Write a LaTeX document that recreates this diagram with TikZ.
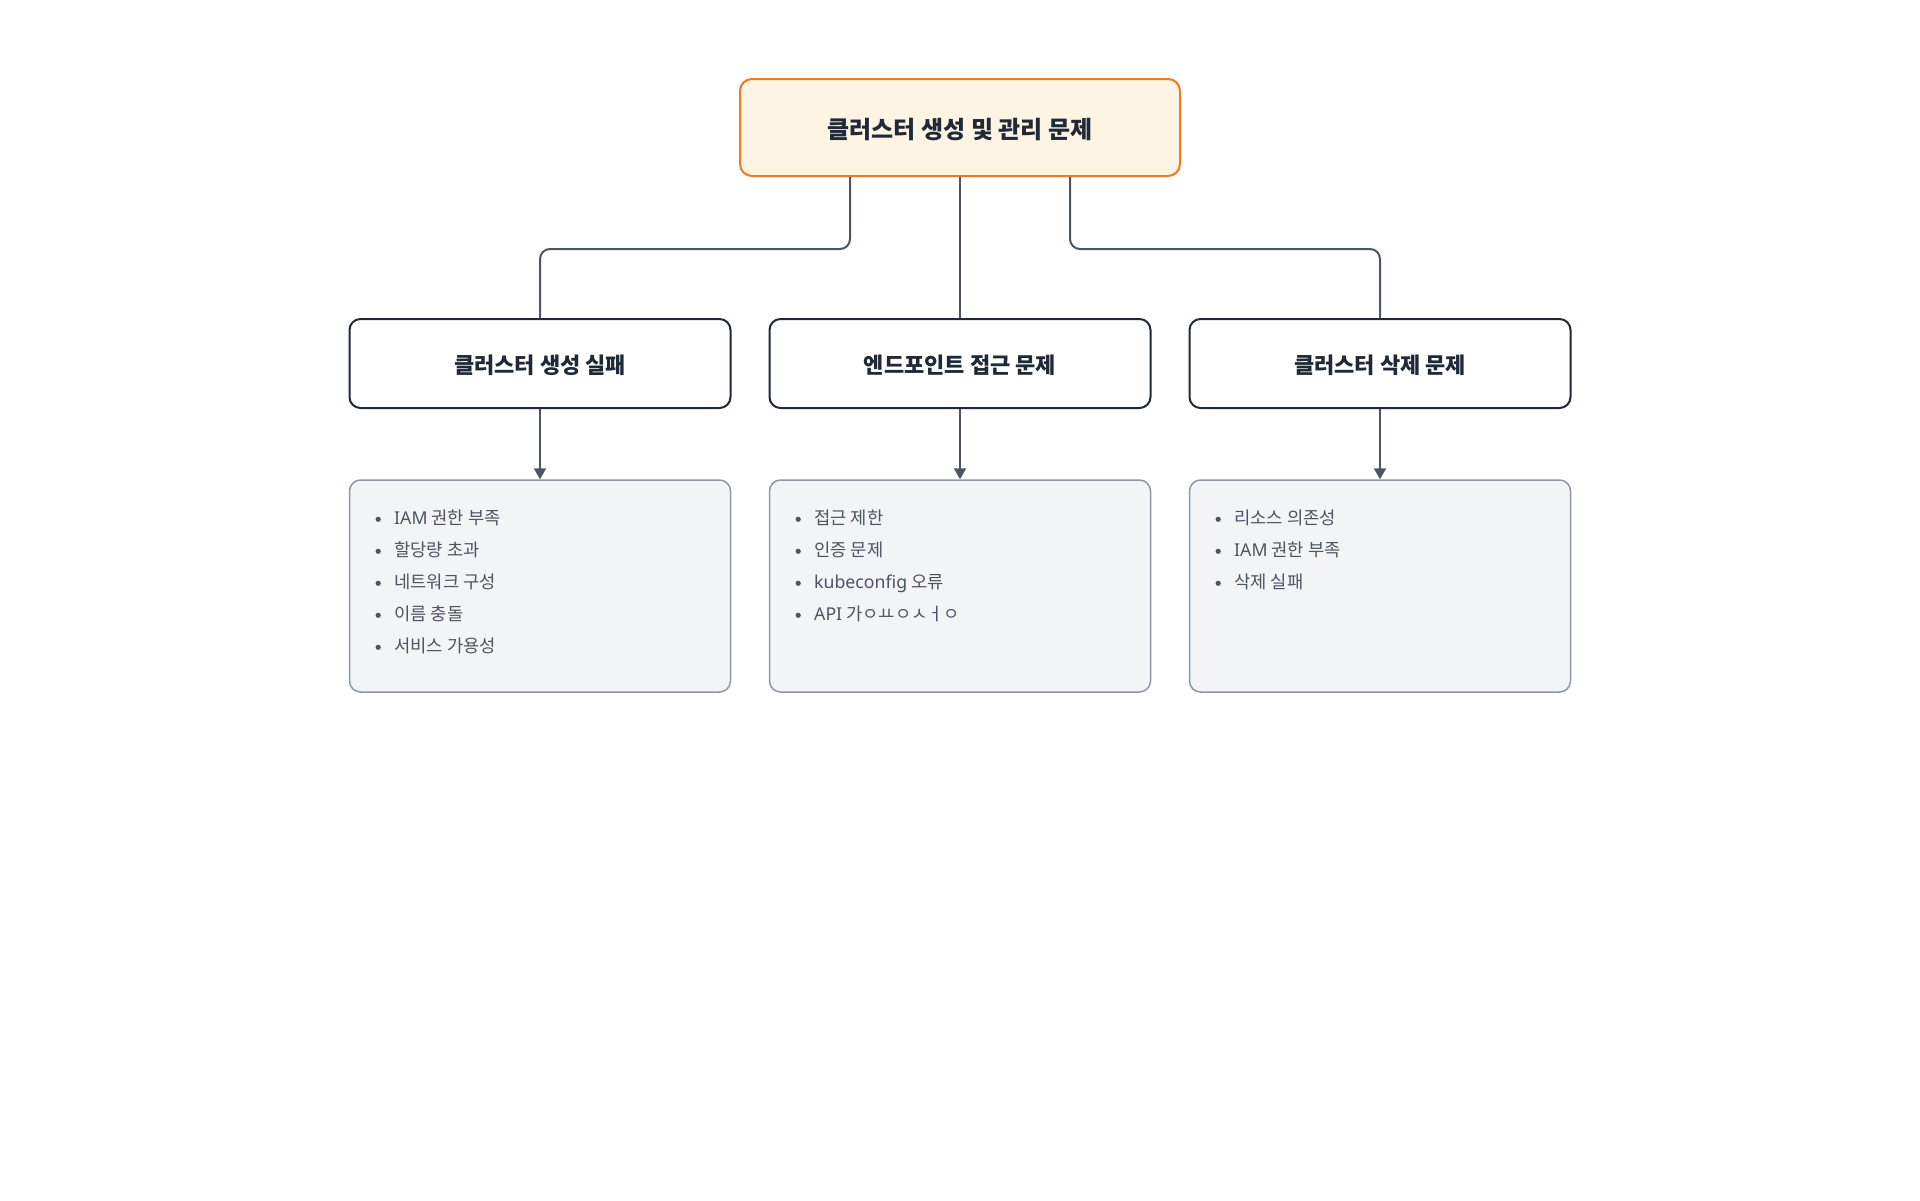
\documentclass[tikz,border=0pt]{standalone}
\usepackage{fontspec}
\usetikzlibrary{arrows.meta}
\setmainfont{Noto Sans CJK KR}
\newfontfamily\kr{Noto Sans CJK KR}
\newfontfamily\lat{Noto Sans}
\definecolor{topfill}{HTML}{FEF4E4}
\definecolor{topdraw}{HTML}{EF7A1C}
\definecolor{middraw}{HTML}{1F2937}
\definecolor{lowfill}{HTML}{F3F4F6}
\definecolor{lowdraw}{HTML}{8D97A8}
\definecolor{conncol}{HTML}{4B5563}
\definecolor{titlecol}{HTML}{1F2937}
\definecolor{listcol}{HTML}{4B5563}
\newcommand\bul{\makebox[0pt][c]{\raisebox{0.12em}{\tikz\fill[listcol] (0,0) circle (2.6pt);}}\hspace{16pt}}
\begin{document}
\begin{tikzpicture}[x=1pt,y=-1pt,
  topbox/.style={draw=topdraw, line width=2pt, fill=topfill, rounded corners=12pt,
    minimum width=440pt, minimum height=97pt, inner sep=0pt},
  toptext/.style={inner sep=0pt, font=\kr\bfseries\fontsize{24}{28}\selectfont, text=titlecol},
  midbox/.style={draw=middraw, line width=2pt, fill=white, rounded corners=11pt,
    minimum width=381pt, minimum height=89pt, inner sep=0pt},
  midtext/.style={inner sep=0pt, font=\kr\bfseries\fontsize{22}{26}\selectfont, text=titlecol},
  lowbox/.style={draw=lowdraw, line width=1.5pt, fill=lowfill, rounded corners=11pt,
    minimum width=381pt, minimum height=212pt, inner sep=0pt},
  item/.style={anchor=base west, inner sep=0pt, text=listcol,
    font=\kr\fontsize{17.7}{21}\selectfont},
  conn/.style={draw=conncol, line width=2pt, rounded corners=10pt},
  arr/.style={draw=conncol, line width=2pt, -{Triangle[width=12pt,length=11pt]}}
]
\useasboundingbox (0,0) rectangle (1920,1200);
\fill[white] (0,0) rectangle (1920,1200);

\node[topbox] (top) at (960,127.5) {};
\node[toptext] (topt) at ([yshift=-2.5pt]top.center) {클러스터 생성 및 관리 문제};

\node[midbox] (m1) at (540,363.5) {};
\node[midbox] (m2) at (960,363.5) {};
\node[midbox] (m3) at (1380,363.5) {};
\node[midtext] (m1t) at ([yshift=-1.5pt]m1.center) {클러스터 생성 실패};
\node[midtext] (m2t) at ([yshift=-1.5pt]m2.center) {엔드포인트 접근 문제};
\node[midtext] (m3t) at ([yshift=-1.5pt]m3.center) {클러스터 삭제 문제};

\node[lowbox] (l1) at (540,586) {};
\node[lowbox] (l2) at (960,586) {};
\node[lowbox] (l3) at (1380,586) {};

\draw[conn] ([xshift=-110pt]top.south) -- ([xshift=-110pt,yshift=-72pt]top.south) -| (m1.north);
\draw[conn] (top.south) -- (m2.north);
\draw[conn] ([xshift=110pt]top.south) -- ([xshift=110pt,yshift=-72pt]top.south) -| (m3.north);

\draw[arr] (m1.south) -- (l1.north);
\draw[arr] (m2.south) -- (l2.north);
\draw[arr] (m3.south) -- (l3.north);

\node[item] (a1) at (378,524) {\bul{\lat IAM} 권한 부족};
\node[item] (a2) at (378,556) {\bul 할당량 초과};
\node[item] (a3) at (378,588) {\bul 네트워크 구성};
\node[item] (a4) at (378,620) {\bul 이름 충돌};
\node[item] (a5) at (378,652) {\bul 서비스 가용성};

\node[item] (b1) at (798,524) {\bul 접근 제한};
\node[item] (b2) at (798,556) {\bul 인증 문제};
\node[item] (b3) at (798,588) {\bul{\lat kubeconfig} 오류};
\node[item] (b4) at (798,620) {\bul{\lat API} 가ㅇㅛㅇㅅㅓㅇ};

\node[item] (c1) at (1218,524) {\bul 리소스 의존성};
\node[item] (c2) at (1218,556) {\bul{\lat IAM} 권한 부족};
\node[item] (c3) at (1218,588) {\bul 삭제 실패};
\end{tikzpicture}
\end{document}
